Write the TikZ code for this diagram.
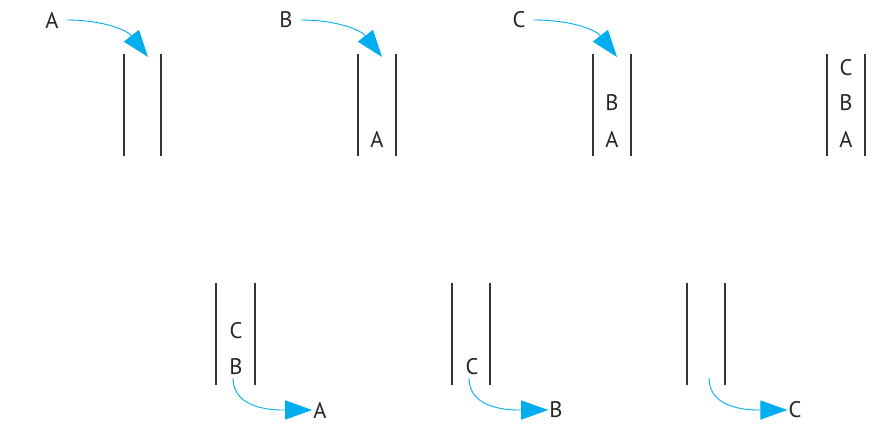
\documentclass[tikz,border=0pt]{standalone}
\usepackage{fontspec}
\setmainfont{PT Sans}
\usetikzlibrary{arrows.meta}
\definecolor{arrcyan}{RGB}{0,174,239}
\tikzset{
  wall/.style={line width=1.1pt, black!80},
  lbl/.style={font=\fontsize{22.5}{22.5}\selectfont, inner sep=0pt, text=black!85},
  push/.style={arrcyan, line width=0.9pt, -{Triangle[length=27pt,width=19pt]}},
}
\newcommand{\stackwalls}[3]{%
  \draw[wall] (#1,#3) -- (#1,#3+102);
  \draw[wall] (#2,#3) -- (#2,#3+102);
}
\begin{document}
\begin{tikzpicture}[x=1pt,y=-1pt]
\useasboundingbox (0,0) rectangle (894,434);
% top row stacks
\stackwalls{124}{161}{54}
\stackwalls{358}{396}{54}
\stackwalls{593}{631}{54}
\stackwalls{827}{865}{54}
% incoming labels
\node[lbl] (inA) at (52,20) {A};
\node[lbl] (inB) at (286,20) {B};
\node[lbl] (inC) at (519,20) {C};
\coordinate (tA) at (148,57);
\coordinate (tB) at (382,57);
\coordinate (tC) at (617,57);
\draw[push] (inA.east) ++(8,0) coordinate (sA) (sA) to[out=0,in=128] (tA);
\draw[push] (inB.east) ++(8,0) coordinate (sB) (sB) to[out=0,in=128] (tB);
\draw[push] (inC.east) ++(8,0) coordinate (sC) (sC) to[out=0,in=128] (tC);
% stack contents top row
\node[lbl] (s2a) at (377,139) {A};
\node[lbl] (s3b) at (612,103) {B};
\node[lbl] (s3a) at (612,139) {A};
\node[lbl] (s4c) at (846,68) {C};
\node[lbl] (s4b) at (846,103) {B};
\node[lbl] (s4a) at (846,139) {A};
% bottom row stacks
\stackwalls{216}{255}{283}
\stackwalls{452}{490}{283}
\stackwalls{687}{725}{283}
\node[lbl] (b1c) at (236,331) {C};
\node[lbl] (b1b) at (236,367) {B};
\node[lbl] (b2c) at (472,367) {C};
% outgoing labels
\node[lbl] (outA) at (320,410) {A};
\node[lbl] (outB) at (556,410) {B};
\node[lbl] (outC) at (795,410) {C};
\coordinate (uA) at (233,378);
\coordinate (uB) at (469,378);
\coordinate (uC) at (709,378);
\draw[push] (uA) to[out=-90,in=180] ([xshift=-1pt]outA.west);
\draw[push] (uB) to[out=-90,in=180] ([xshift=-1pt]outB.west);
\draw[push] (uC) to[out=-90,in=180] ([xshift=-1pt]outC.west);
\end{tikzpicture}
\end{document}
